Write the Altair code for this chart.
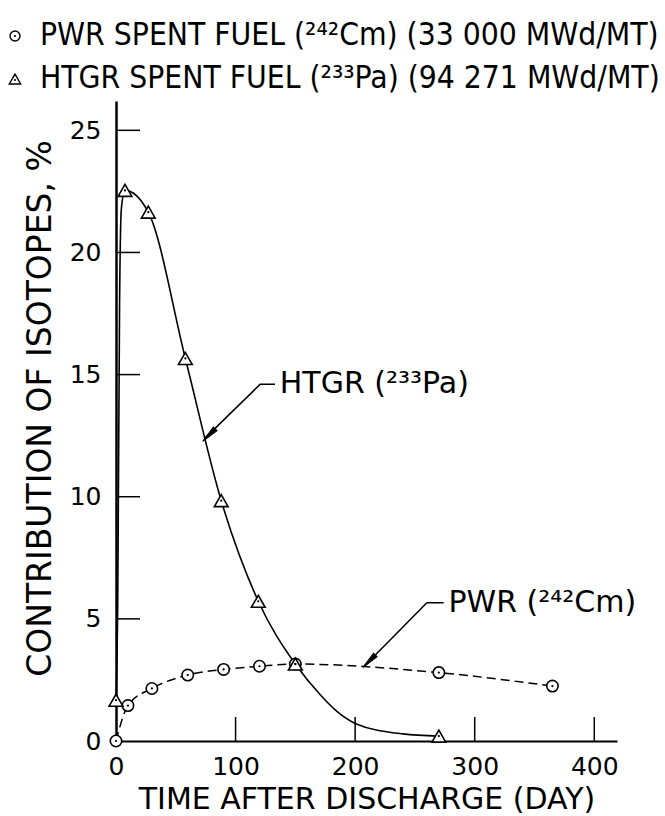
import altair as alt
import pandas as pd

# ---- data ----
pwr_day = [0, 10, 30, 60, 90, 120, 150, 270, 365]
pwr_pct = [0.0, 1.45, 2.15, 2.7, 2.93, 3.06, 3.15, 2.8, 2.25]

htgr_day = [0, 7.5, 27, 58, 88, 119, 150, 270]
htgr_pct = [1.67, 22.54, 21.65, 15.66, 9.84, 5.72, 3.15, 0.2]

# traced points of the drawn HTGR curve (where it bends between markers)
htgr_curve_day = [0, 1.5, 3, 4.5, 7.5, 27, 58, 88, 119, 150, 171, 185, 200, 240, 270]
htgr_curve_pct = [1.67, 6, 18, 21.8, 22.54, 21.65, 15.66, 9.84, 5.72, 3.15, 1.88, 1.2, 0.72, 0.29, 0.2]

x_ticks = [0, 100, 200, 300, 400]
y_ticks = [0, 5, 10, 15, 20, 25]
x_inner_ticks = [100, 200, 300, 400]
y_inner_ticks = [5, 10, 15, 20, 25]

# annotation leaders (day, %)
htgr_leader_day = [74.5, 120.5, 133]
htgr_leader_pct = [12.4, 14.6, 14.6]
pwr_leader_day = [208.4, 260, 274]
pwr_leader_pct = [3.1, 5.66, 5.66]
arrow_day = [79.5, 213.4]
arrow_pct = [12.61, 3.35]
label_day = [137, 278]
label_pct = [14.6, 5.66]
label_text = ["HTGR (²³³Pa)", "PWR (²⁴²Cm)"]

legend_text = ["PWR SPENT FUEL (²⁴²Cm) (33 000 MWd/MT)",
               "HTGR SPENT FUEL (²³³Pa) (94 271 MWd/MT)"]

W, H = 501, 640
XD = [0, 419]
YD = [0, 26.2]
FONT = "DejaVu Sans"
LFONT = "DejaVu Sans Condensed"

xs = alt.Scale(domain=XD, nice=False, zero=False)
ys = alt.Scale(domain=YD, nice=False, zero=False)

pwr = pd.DataFrame({"day": pwr_day, "pct": pwr_pct})
htgr = pd.DataFrame({"day": htgr_day, "pct": htgr_pct})
htgr_curve = pd.DataFrame({"day": htgr_curve_day, "pct": htgr_curve_pct})

xaxis = alt.Axis(values=x_ticks, ticks=False, tickSize=0, grid=False, labelFont=FONT,
                 labelFontSize=25, labelColor="black", labelPadding=13, labelFlush=False,
                 domainColor="black", domainWidth=2, title="TIME AFTER DISCHARGE (DAY)",
                 titleFont=FONT, titleFontSize=30, titleFontWeight="normal",
                 titleColor="black", titlePadding=5, format="d")
yaxis = alt.Axis(values=y_ticks, ticks=False, tickSize=0, grid=False, labelFont=FONT,
                 labelFontSize=25, labelColor="black", labelPadding=15, labelFlush=False,
                 domainColor="black", domainWidth=2.5, title="CONTRIBUTION OF ISOTOPES, %",
                 titleFont=FONT, titleFontSize=33, titleFontWeight="normal",
                 titleColor="black", titlePadding=12, titleY=307, format="d")


def X(f="day"):
    return alt.X(f + ":Q", scale=xs, axis=xaxis)


def Y(f="pct"):
    return alt.Y(f + ":Q", scale=ys, axis=yaxis)


xt = alt.Chart(pd.DataFrame({"day": x_inner_ticks})).mark_rule(color="black", strokeWidth=1.5).encode(
    x=X(), y=alt.value(H), y2=alt.value(H - 24))
yt = alt.Chart(pd.DataFrame({"pct": y_inner_ticks})).mark_rule(color="black", strokeWidth=1.5).encode(
    y=Y(), x=alt.value(0), x2=alt.value(24))

htgr_line = alt.Chart(htgr_curve).mark_line(color="black", strokeWidth=1.6,
                                            interpolate="monotone").encode(x=X(), y=Y())
pwr_line = alt.Chart(pwr).mark_line(color="black", strokeWidth=1.5, strokeDash=[9, 5],
                                    interpolate="monotone").encode(x=X(), y=Y())

pwr_pts = alt.Chart(pwr).mark_point(shape="circle", size=130, filled=True, fill="white",
                                    stroke="black", strokeWidth=1.6, opacity=1).encode(x=X(), y=Y())
htgr_pts = alt.Chart(htgr).mark_point(shape="triangle-up", size=190, filled=True, fill="white",
                                      stroke="black", strokeWidth=1.6, opacity=1).encode(x=X(), y=Y())
dots = alt.Chart(pd.concat([pwr, htgr])).mark_point(shape="circle", size=5, filled=True,
                                                     color="black", opacity=1).encode(x=X(), y=Y())

lead1 = alt.Chart(pd.DataFrame({"day": htgr_leader_day, "pct": htgr_leader_pct})).mark_line(
    color="black", strokeWidth=1.5).encode(x=X(), y=Y())
lead2 = alt.Chart(pd.DataFrame({"day": pwr_leader_day, "pct": pwr_leader_pct})).mark_line(
    color="black", strokeWidth=1.5).encode(x=X(), y=Y())
arrows = alt.Chart(pd.DataFrame({"day": arrow_day, "pct": arrow_pct})).mark_point(
    shape="wedge", size=420, filled=True, color="black", opacity=1, angle=225,
    stroke="black", strokeWidth=1).encode(x=X(), y=Y())
labels = alt.Chart(pd.DataFrame({"day": label_day, "pct": label_pct, "txt": label_text})).mark_text(
    align="left", baseline="middle", font=FONT, fontSize=30, color="black").encode(
    x=X(), y=Y(), text="txt:N")

leg_df = pd.DataFrame({"txt": legend_text, "row": [0, 1]})
leg1 = alt.Chart(leg_df).transform_filter("datum.row == 0").mark_text(
    align="left", baseline="middle", font=LFONT, fontSize=31.5, color="black").encode(
    x=alt.value(-76), y=alt.value(-65), text="txt:N")
leg2 = alt.Chart(leg_df).transform_filter("datum.row == 1").mark_text(
    align="left", baseline="middle", font=LFONT, fontSize=31.5, color="black").encode(
    x=alt.value(-76), y=alt.value(-22), text="txt:N")
legsym1 = alt.Chart(leg_df).transform_filter("datum.row == 0").mark_point(
    shape="circle", size=100, filled=False, color="black", strokeWidth=1.4, opacity=1).encode(
    x=alt.value(-101), y=alt.value(-65))
legsym1d = alt.Chart(leg_df).transform_filter("datum.row == 0").mark_point(
    shape="circle", size=5, filled=True, color="black", opacity=1).encode(
    x=alt.value(-101), y=alt.value(-65))
legsym2 = alt.Chart(leg_df).transform_filter("datum.row == 1").mark_point(
    shape="triangle-up", size=130, filled=False, color="black", strokeWidth=1.4, opacity=1).encode(
    x=alt.value(-101), y=alt.value(-22))
legsym2d = alt.Chart(leg_df).transform_filter("datum.row == 1").mark_point(
    shape="circle", size=4, filled=True, color="black", opacity=1).encode(
    x=alt.value(-101), y=alt.value(-21))

chart = alt.layer(
    xt, yt, htgr_line, pwr_line, lead1, lead2, arrows,
    pwr_pts, htgr_pts, dots, labels, leg1, leg2, legsym1, legsym1d, legsym2, legsym2d
).properties(
    width=W, height=H,
    autosize=alt.AutoSizeParams(type="none"),
    padding={"left": 116, "top": 101, "right": 48, "bottom": 75},
    background="white",
).configure_view(stroke=None)

chart.save("out.html", embed_options={"renderer": "svg", "actions": False})
